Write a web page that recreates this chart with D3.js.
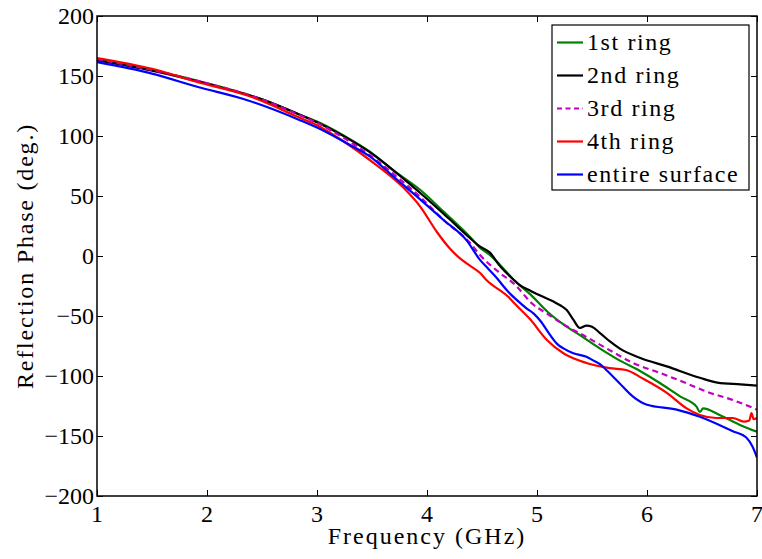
<!DOCTYPE html>
<html>
<head>
<meta charset="utf-8">
<script src="https://cdn.jsdelivr.net/npm/d3@7"></script>
</head>
<body style="margin:0">
<svg id="chart" width="762" height="559"></svg>
<script>
// ---- data (frequency GHz, reflection phase deg.) ----
const seriesNames = ["1st ring", "2nd ring", "3rd ring", "4th ring", "entire surface"];
const xTicks = [1, 2, 3, 4, 5, 6, 7];
const yTicks = [200, 150, 100, 50, 0, -50, -100, -150, -200];

const ring1 = [[1.0,164],[1.5,155],[2.0,144],[2.5,130.5],[2.85,117.5],[3.0,112],[3.25,100],[3.48,87],[3.7,71],[3.94,55],[4.15,37],[4.39,16],[4.48,7],[4.57,1],[4.66,-7],[4.79,-20],[4.94,-32],[5.09,-46],[5.24,-57],[5.39,-66],[5.57,-77],[5.75,-87],[5.94,-96],[6.12,-106],[6.30,-117],[6.45,-125.5],[6.48,-130],[6.51,-127],[6.66,-132.5],[6.85,-141],[7.0,-146.5]];
const ring2 = [[1.0,163],[1.5,154.5],[2.0,143.5],[2.5,130.5],[2.85,117.5],[3.0,111.5],[3.25,99.5],[3.48,86.5],[3.7,71],[3.97,50],[4.2,31],[4.39,15],[4.48,8],[4.57,3],[4.66,-8],[4.79,-20],[4.84,-24],[4.94,-29],[5.03,-33],[5.15,-38],[5.21,-41],[5.27,-45],[5.33,-53],[5.39,-60],[5.45,-58],[5.5,-59],[5.57,-64],[5.66,-71],[5.75,-77],[5.94,-85],[6.18,-92],[6.48,-101.5],[6.64,-105.5],[6.85,-107],[7.0,-108]];
const ring3 = [[1.0,164],[1.5,155],[2.0,144],[2.5,130.5],[2.85,117],[3.0,111],[3.25,98],[3.48,84],[3.7,68],[3.94,49],[4.15,30],[4.39,11],[4.48,1],[4.66,-14],[4.79,-23],[4.96,-40],[5.09,-48],[5.24,-57],[5.44,-67],[5.69,-80],[5.87,-89],[6.12,-97.5],[6.33,-105],[6.54,-113],[6.78,-120],[7.0,-128]];
const ring4 = [[1.0,165],[1.5,156],[1.91,145],[2.36,134],[2.85,115],[3.0,109],[3.25,95],[3.48,80],[3.785,57],[3.94,41],[4.09,20],[4.21,6],[4.3,-2],[4.39,-8],[4.48,-14],[4.54,-20],[4.75,-35],[4.79,-39],[4.94,-53],[5.09,-70],[5.24,-81],[5.3,-84],[5.48,-90],[5.66,-93.5],[5.81,-95],[5.96,-102],[6.18,-114],[6.36,-127],[6.48,-132.5],[6.63,-135],[6.78,-135],[6.88,-138],[6.93,-137],[6.95,-131],[6.97,-136],[7.0,-135]];
const entire = [[1.0,161.5],[1.5,152],[1.91,141],[2.36,130],[2.85,113],[3.0,107],[3.25,95],[3.48,83],[3.71,65],[3.94,47],[4.15,30],[4.36,13],[4.48,-3],[4.56,-11],[4.64,-19],[4.73,-29],[4.82,-37],[4.91,-44],[4.97,-48],[5.03,-54],[5.12,-66],[5.18,-73],[5.24,-77],[5.33,-81],[5.45,-84],[5.51,-87],[5.57,-90],[5.63,-95],[5.75,-106],[5.87,-117],[6.0,-124],[6.27,-128],[6.48,-134],[6.78,-146],[6.9,-151],[6.96,-159],[7.0,-168]];

const seriesData = [ring1, ring2, ring3, ring4, entire];
const seriesColors = ["#008000", "#000000", "#bf00bf", "#ff0000", "#0000ff"];
const seriesDash = [null, null, "6,4", null, null];

// ---- layout ----
const FONT = "'Liberation Serif', monospace";
const svg = d3.select("#chart");
const L = 97, R = 757, T = 16, B = 496;
const x = d3.scaleLinear().domain([1, 7]).range([L, R]);
const y = d3.scaleLinear().domain([-200, 200]).range([B, T]);

svg.append("rect").attr("width", 762).attr("height", 559).attr("fill", "#fff");
svg.append("defs").append("clipPath").attr("id", "clip")
  .append("rect").attr("x", L).attr("y", T).attr("width", R - L).attr("height", B - T);

// curves
const line = d3.line().x(d => x(d[0])).y(d => y(d[1])).curve(d3.curveMonotoneX);
const g = svg.append("g").attr("clip-path", "url(#clip)");
seriesData.forEach((s, i) => {
  g.append("path").datum(s)
    .attr("d", line)
    .attr("fill", "none")
    .attr("stroke", seriesColors[i])
    .attr("stroke-width", 2.2)
    .attr("stroke-dasharray", seriesDash[i]);
});

// axes with inward ticks, labels drawn as plain texts placed by the scales
const tl = 6;
const fmt = v => v < 0 ? "\u2212" + Math.abs(v) : String(v);
const axB = svg.append("g").attr("transform", `translate(0,${B})`)
  .call(d3.axisBottom(x).tickValues(xTicks).tickSize(-tl).tickFormat(""));
const axT = svg.append("g").attr("transform", `translate(0,${T})`)
  .call(d3.axisTop(x).tickValues(xTicks).tickSize(-tl).tickFormat(""));
const axL = svg.append("g").attr("transform", `translate(${L},0)`)
  .call(d3.axisLeft(y).tickValues(yTicks).tickSize(-tl).tickFormat(""));
const axR = svg.append("g").attr("transform", `translate(${R},0)`)
  .call(d3.axisRight(y).tickValues(yTicks).tickSize(-tl).tickFormat(""));
[axB, axT, axL, axR].forEach(a => {
  a.select(".domain").remove();
  a.selectAll(".tick line").attr("stroke", "#000").attr("stroke-width", 1);
  a.selectAll(".tick text").remove();
});

xTicks.forEach(v => {
  svg.append("text").attr("x", x(v)).attr("y", 522).attr("text-anchor", "middle")
    .style("font-family", FONT).style("font-size", "24px").text(String(v));
});
yTicks.forEach(v => {
  svg.append("text").attr("x", L - 3).attr("y", y(v) + 8).attr("text-anchor", "end")
    .style("font-family", FONT).style("font-size", "24px").text(fmt(v));
});

// frame
svg.append("rect").attr("x", L).attr("y", T).attr("width", R - L).attr("height", B - T)
  .attr("fill", "none").attr("stroke", "#000").attr("stroke-width", 1.5);

// axis titles
svg.append("text").attr("x", (L + R) / 2).attr("y", 544).attr("text-anchor", "middle")
  .style("font-family", FONT).style("font-size", "24px").style("letter-spacing", "2px")
  .text("Frequency (GHz)");
svg.append("text").attr("transform", `translate(33,${(T + B) / 2}) rotate(-90)`).attr("text-anchor", "middle")
  .style("font-family", FONT).style("font-size", "24px").style("letter-spacing", "1.8px")
  .text("Reflection Phase (deg.)");

// legend
const lg = svg.append("g");
lg.append("rect").attr("x", 552).attr("y", 25).attr("width", 197).attr("height", 165)
  .attr("fill", "#fff").attr("stroke", "#000").attr("stroke-width", 1.2);
seriesNames.forEach((n, i) => {
  const yy = 42.5 + i * 33;
  lg.append("line").attr("x1", 557).attr("x2", 583).attr("y1", yy).attr("y2", yy)
    .attr("stroke", seriesColors[i]).attr("stroke-width", 2.2).attr("stroke-dasharray", seriesDash[i] ? "5,3.5" : null);
  lg.append("text").attr("x", 587).attr("y", yy + 7.5)
    .style("font-family", FONT).style("font-size", "24px").style("letter-spacing", "1.6px").text(n);
});
</script>
</body>
</html>
